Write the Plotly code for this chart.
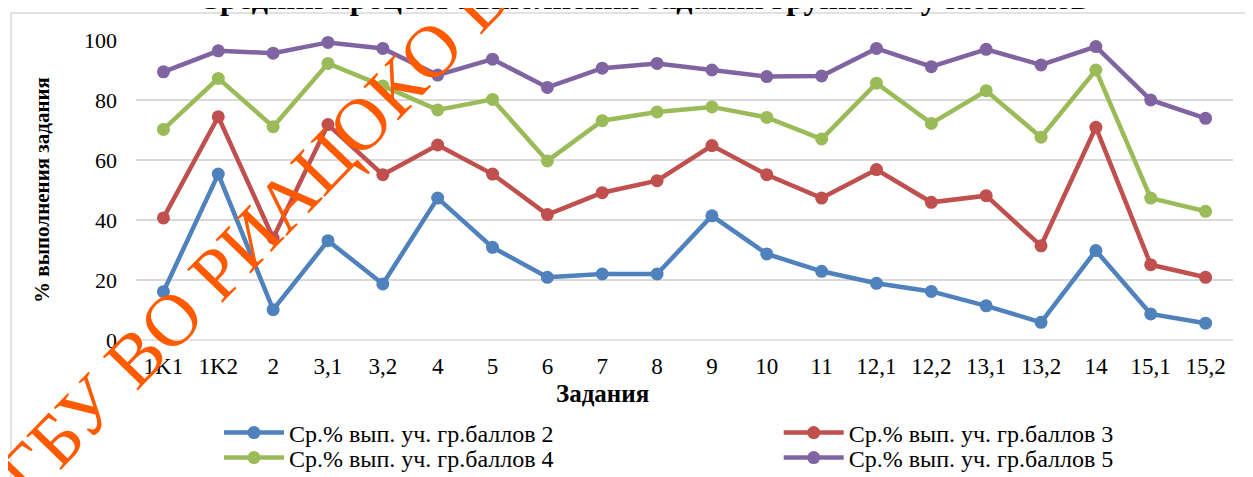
import plotly.graph_objects as go

categories = ["1K1", "1K2", "2", "3,1", "3,2", "4", "5", "6", "7", "8", "9", "10",
              "11", "12,1", "12,2", "13,1", "13,2", "14", "15,1", "15,2"]
grp2 = [16.1, 55.3, 10.1, 33.1, 18.7, 47.3, 30.9, 20.9, 22.0, 22.0, 41.4, 28.7,
        22.9, 18.9, 16.2, 11.4, 5.9, 29.8, 8.7, 5.6]
grp3 = [40.7, 74.4, 34.0, 71.8, 55.1, 65.0, 55.3, 41.8, 49.1, 53.1, 64.8, 55.1,
        47.3, 56.8, 45.9, 48.1, 31.4, 70.9, 25.1, 20.9]
grp4 = [70.2, 87.2, 71.1, 92.2, 84.7, 76.7, 80.2, 59.7, 73.1, 76.0, 77.7, 74.2,
        67.0, 85.6, 72.2, 83.1, 67.6, 90.0, 47.3, 42.9]
grp5 = [89.4, 96.4, 95.6, 99.2, 97.2, 88.3, 93.6, 84.2, 90.6, 92.2, 90.0, 87.8,
        88.0, 97.2, 91.1, 96.9, 91.7, 97.8, 80.0, 73.9]

series_names = ["Ср.% вып. уч. гр.баллов 2", "Ср.% вып. уч. гр.баллов 3",
                "Ср.% вып. уч. гр.баллов 4", "Ср.% вып. уч. гр.баллов 5"]
colors = ["#4F81BD", "#C0504D", "#9BBB59", "#8064A2"]
legend_ids = ["legend", "legend2", "legend3", "legend4"]

FONT = "'Times New Roman', 'Liberation Serif', serif"

# page offset of the figure inside the browser window (default body margin)
O = 8
FW, FH = 1253 - O, 477 - O

# plot area geometry in window pixels
L, R, T, B = 136, 1233.5, 40, 340
W, H = R - L, B - T


def px(x):
    return (x - L) / W


def py(y):
    return (B - y) / H


fig = go.Figure()
for name, vals, col, lg in zip(series_names, [grp2, grp3, grp4, grp5], colors, legend_ids):
    fig.add_trace(go.Scatter(
        x=categories, y=vals, name=name, mode="lines+markers",
        line=dict(color=col, width=4.5),
        marker=dict(color=col, size=13),
        cliponaxis=False, legend=lg,
    ))

leg_common = dict(
    orientation="v", yanchor="middle", xanchor="left", itemwidth=60, tracegroupgap=0,
    font=dict(family=FONT, size=24, color="black"), bgcolor="rgba(0,0,0,0)",
    itemclick=False, itemdoubleclick=False,
)
LEG_X1, LEG_X2 = 219, 779
LEG_Y1, LEG_Y2 = 433, 458

fig.update_layout(
    width=FW, height=FH,
    margin=dict(l=L - O, r=FW - (R - O), t=T - O, b=FH - (B - O), autoexpand=False),
    paper_bgcolor="white", plot_bgcolor="white",
    font=dict(family=FONT, color="black", size=22),
    showlegend=True,
    legend=dict(x=px(LEG_X1), y=py(LEG_Y1), **leg_common),
    legend2=dict(x=px(LEG_X2), y=py(LEG_Y1), **leg_common),
    legend3=dict(x=px(LEG_X1), y=py(LEG_Y2), **leg_common),
    legend4=dict(x=px(LEG_X2), y=py(LEG_Y2), **leg_common),
    xaxis=dict(
        type="category", range=[-0.5, len(categories) - 0.5],
        showgrid=False, zeroline=False, showline=False, ticks="",
        tickfont=dict(family=FONT, size=23, color="black"),
        ticklabelstandoff=10,
    ),
    yaxis=dict(
        range=[0, 100], dtick=20, showgrid=True, gridcolor="#D9D9D9", gridwidth=1.5,
        zeroline=False, showline=False, ticks="",
        tickfont=dict(family=FONT, size=22, color="black"),
        ticklabelstandoff=18,
        title=dict(text="<b>% выполнения задания</b>", font=dict(family=FONT, size=21), standoff=28),
    ),
)

# bottom gridline / axis line at 0 (same grey)
fig.add_shape(type="line", xref="paper", yref="paper", x0=0, x1=1, y0=0, y1=0,
              line=dict(color="#D9D9D9", width=1.5), layer="below")

# chart area border
fig.add_shape(type="rect", xref="paper", yref="paper",
              x0=px(11), x1=px(1262), y0=py(13), y1=py(490),
              line=dict(color="#D9D9D9", width=1.5), layer="below")

# x-axis title
fig.add_annotation(
    text="<b>Задания</b>", xref="paper", yref="paper", x=px(603), y=py(393),
    xanchor="center", yanchor="middle", showarrow=False,
    font=dict(family=FONT, size=25, color="black"),
)

# title (cut off at top as in reference)
fig.add_annotation(
    text="<b>Средний процент выполнения заданий группами участников</b>",
    xref="paper", yref="paper", x=px(643), y=py(-2), xanchor="center", yanchor="middle",
    showarrow=False, font=dict(family=FONT, size=32, color="black"),
)

# watermark
fig.add_annotation(
    text="ГБУ ВО РИАЦОКО В",
    xref="paper", yref="paper", x=px(254), y=py(234), xanchor="center", yanchor="middle",
    showarrow=False, textangle=-46,
    font=dict(family=FONT, size=74, color="#FF5A00"),
)

fig.write_html("out.html")
